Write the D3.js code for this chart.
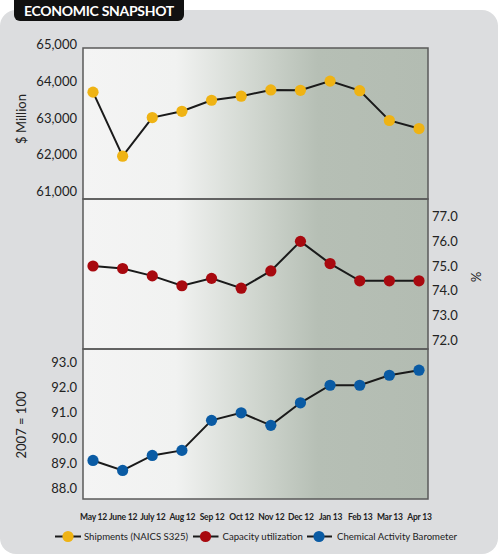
<!DOCTYPE html>
<html><head><meta charset="utf-8">
<script src="https://cdn.jsdelivr.net/npm/d3@7"></script>
<style>body{margin:0;background:#fff;}svg{display:block;font-family:Lato,"Open Sans",sans-serif;}</style>
</head><body>
<svg id="c" width="500" height="558"></svg>
<script>
const months = ["May 12","June 12","July 12","Aug 12","Sep 12","Oct 12","Nov 12","Dec 12","Jan 13","Feb 13","Mar 13","Apr 13"];
const shipments = [63700,61960,63010,63180,63480,63590,63760,63750,64000,63740,62930,62710];
const capacity = [75.0,74.9,74.6,74.2,74.5,74.1,74.8,76.0,75.1,74.4,74.4,74.4];
const cab = [89.1,88.7,89.3,89.5,90.7,91.0,90.5,91.4,92.1,92.1,92.5,92.7];
const shipTicks = [61000,62000,63000,64000,65000];
const capTicks = [72,73,74,75,76,77];
const cabTicks = [88,89,90,91,92,93];
const legendNames = ["Shipments (NAICS S325)","Capacity utilization","Chemical Activity Barometer"];
const colors = ["#efb314","#a8090f","#0a5ba4"];

const svg = d3.select("#c");
const defs = svg.append("defs");
const g = defs.append("linearGradient").attr("id","bg").attr("x1","0").attr("x2","1").attr("y1","0").attr("y2","0");
g.append("stop").attr("offset","0%").attr("stop-color","#f4f4f4");
g.append("stop").attr("offset","27%").attr("stop-color","#f1f2f1");
g.append("stop").attr("offset","50%").attr("stop-color","#d0d6cf");
g.append("stop").attr("offset","68%").attr("stop-color","#b6bfb5");
g.append("stop").attr("offset","100%").attr("stop-color","#b3bcb2");

// outer panel
(()=>{const p=d3.path();const x0=0,y0=10,x1=498,y1=554,r=16;
  p.moveTo(x0+r,y0);p.lineTo(x1-r,y0);p.arcTo(x1,y0,x1,y0+r,r);p.lineTo(x1,y1-r);p.arcTo(x1,y1,x1-r,y1,r);
  p.lineTo(x0+r,y1);p.arcTo(x0,y1,x0,y1-r,r);p.lineTo(x0,y0+r);p.arcTo(x0,y0,x0+r,y0,r);p.closePath();
  svg.append("path").attr("d",p.toString()).attr("fill","#dcdddf");})();

// title box
(()=>{const p=d3.path();const x0=14,x1=184,y0=0,y1=21,r=6;
  p.moveTo(x0,y0);p.lineTo(x1,y0);p.lineTo(x1,y1-r);p.arcTo(x1,y1,x1-r,y1,r);p.lineTo(x0+r,y1);p.arcTo(x0,y1,x0,y1-r,r);p.closePath();
  svg.append("path").attr("d",p.toString()).attr("fill","#111");})();
svg.append("text").attr("x",99).attr("y",15.5).attr("text-anchor","middle").attr("fill","#fff")
  .attr("font-size",14).attr("font-weight","bold").attr("letter-spacing","-0.3").text("ECONOMIC SNAPSHOT");

const L = 83, R = 428;
const x = d3.scalePoint().domain(months).range([93,419]);

const panels = [
  {top:48,bot:199,data:shipments,ticks:shipTicks,y:d3.scaleLinear().domain([61000,65000]).range([191.5,44.3]),side:"left",fmt:d3.format(","),title:"$ Million",ty:119,col:colors[0]},
  {top:199,bot:349,data:capacity,ticks:capTicks,y:d3.scaleLinear().domain([72,77]).range([340,216.7]),side:"right",fmt:d3.format(".1f"),title:"%",ty:277,col:colors[1]},
  {top:349,bot:499,data:cab,ticks:cabTicks,y:d3.scaleLinear().domain([88,93]).range([488,362.7]),side:"left",fmt:d3.format(".1f"),title:"2007 = 100",ty:425,col:colors[2]}
];

panels.forEach(p=>{
  svg.append("rect").attr("x",L).attr("y",p.top).attr("width",R-L).attr("height",p.bot-p.top).attr("fill","url(#bg)");
});
panels.forEach(p=>{
  svg.append("rect").attr("x",L).attr("y",p.top).attr("width",R-L).attr("height",p.bot-p.top)
    .attr("fill","none").attr("stroke","#5a5a5a").attr("stroke-width",1.5);
});

panels.forEach(p=>{
  const ax = p.side==="left" ? d3.axisLeft(p.y) : d3.axisRight(p.y);
  ax.tickValues(p.ticks).tickFormat(p.fmt).tickSize(0).tickPadding(0);
  const ag = svg.append("g").attr("transform",`translate(${p.side==="left"?77:432},0)`).call(ax);
  ag.select(".domain").remove();
  ag.selectAll("text").attr("font-size",13).attr("fill","#222").attr("font-family","Lato,'Open Sans',sans-serif");
  const tx = p.side==="left" ? 21 : 476;
  svg.append("text").attr("transform",`translate(${tx},${p.ty}) rotate(${p.side==="left"?-90:90})`)
    .attr("text-anchor","middle").attr("dy","0.35em").attr("font-size",13).attr("fill","#222").text(p.title);

  const line = d3.line().x((d,i)=>x(months[i])).y(d=>p.y(d));
  svg.append("path").datum(p.data).attr("d",line).attr("fill","none").attr("stroke","#1a1a1a").attr("stroke-width",2);
  svg.selectAll(null).data(p.data).enter().append("circle")
    .attr("cx",(d,i)=>x(months[i])).attr("cy",d=>p.y(d)).attr("r",5.6).attr("fill",p.col);
});

// x labels
const xa = svg.append("g").attr("transform","translate(0,517)").call(d3.axisBottom(x).tickSize(0).tickPadding(0));
xa.select(".domain").remove();
xa.selectAll("text").attr("font-size",8.5).attr("font-weight","bold").attr("fill","#222").attr("dy","0.35em")
  .attr("font-family","Lato,'Open Sans',sans-serif").attr("letter-spacing","-0.2");

// legend
const legX = [[55,68,84],[193,205.5,222.5],[307,319,337]];
legendNames.forEach((n,i)=>{
  const [a,c,t]=legX[i];
  const gy=536.5;
  svg.append("line").attr("x1",a).attr("x2",c+13).attr("y1",gy).attr("y2",gy).attr("stroke","#1a1a1a").attr("stroke-width",2);
  svg.append("circle").attr("cx",c).attr("cy",gy).attr("r",5.6).attr("fill",colors[i]);
  svg.append("text").attr("x",t).attr("y",gy).attr("dy","0.35em").attr("font-size",9.6).attr("fill","#222").text(n);
});
</script>
</body></html>
